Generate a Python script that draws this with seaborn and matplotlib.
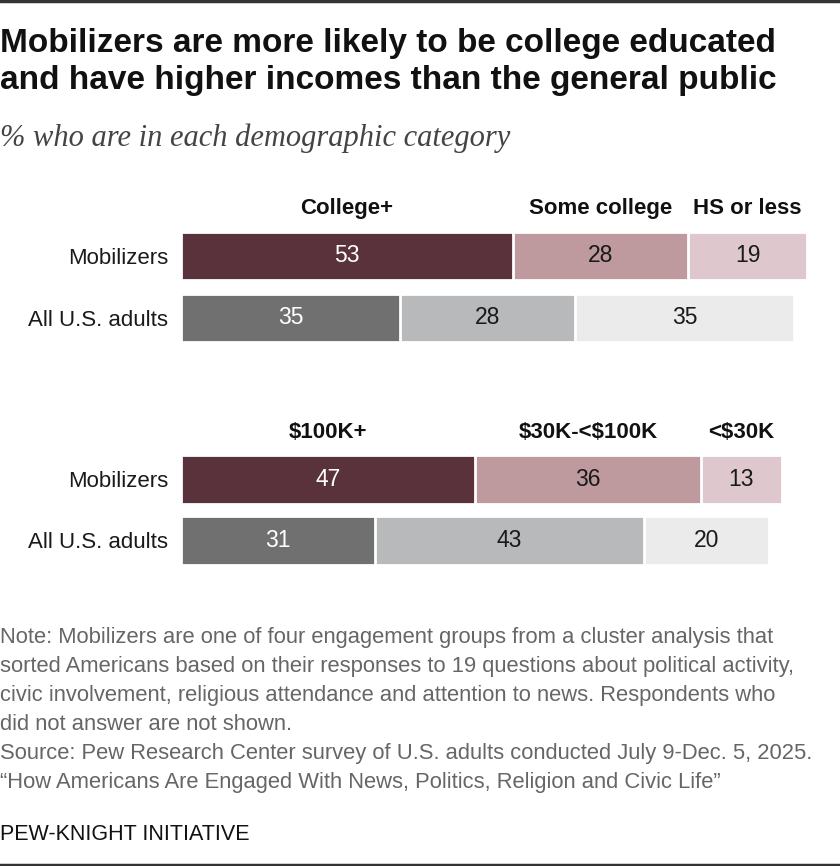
"""Stacked bar chart: education and income of Mobilizers vs. all U.S. adults."""

import matplotlib.pyplot as plt
import pandas as pd
import seaborn as sns

# --- data -------------------------------------------------------------------
GROUPS = ["Mobilizers", "All U.S. adults"]

EDU_CATEGORIES = ["College+", "Some college", "HS or less"]
EDU_MOBILIZERS = [53, 28, 19]
EDU_ALL_ADULTS = [35, 28, 35]

INC_CATEGORIES = ["$100K+", "$30K-<$100K", "<$30K"]
INC_MOBILIZERS = [47, 36, 13]
INC_ALL_ADULTS = [31, 43, 20]

TITLE_LINES = [
    "Mobilizers are more likely to be college educated",
    "and have higher incomes than the general public",
]
SUBTITLE = "% who are in each demographic category"
NOTE_LINES = [
    "Note: Mobilizers are one of four engagement groups from a cluster analysis that",
    "sorted Americans based on their responses to 19 questions about political activity,",
    "civic involvement, religious attendance and attention to news. Respondents who",
    "did not answer are not shown.",
    "Source: Pew Research Center survey of U.S. adults conducted July 9-Dec. 5, 2025.",
    "\u201cHow Americans Are Engaged With News, Politics, Religion and Civic Life\u201d",
]
CREDIT = "PEW-KNIGHT INITIATIVE"

# --- style ------------------------------------------------------------------
MOB_COLORS = ["#5F2C38", "#C4939A", "#E3C4CB"]
ALL_COLORS = ["#707070", "#B8B9BA", "#EBEBEB"]
TEXT_COLORS = ["white", "#1a1a1a", "#1a1a1a"]

FIG_W, FIG_H = 840, 866
BAR_LEFT, BAR_SPAN = 181, 626

sns.set_theme(style="white")
plt.rcParams["font.family"] = ["Liberation Sans", "DejaVu Sans"]
plt.rcParams["text.parse_math"] = False


def fx(px: float) -> float:
    return px / FIG_W


def fy(px: float) -> float:
    return 1 - px / FIG_H


def stacked_panel(ax, categories, mob_values, all_values):
    """Draw one pair of stacked bars by overlaying cumulative totals."""
    for k in range(len(categories) - 1, -1, -1):
        frame = pd.DataFrame(
            {
                "group": GROUPS,
                "total": [sum(mob_values[: k + 1]), sum(all_values[: k + 1])],
            }
        )
        sns.barplot(
            data=frame,
            x="total",
            y="group",
            hue="group",
            palette=[MOB_COLORS[k], ALL_COLORS[k]],
            orient="h",
            width=0.79,
            edgecolor="white",
            linewidth=2,
            legend=False,
            ax=ax,
        )

    for row, values in enumerate([mob_values, all_values]):
        start = 0
        for value, color in zip(values, TEXT_COLORS):
            ax.text(start + value / 2, row, f"{value}", ha="center", va="center",
                    fontsize=16.5, color=color)
            start += value

    start = 0
    for cat, value in zip(categories, mob_values):
        ax.text(start + value / 2, -0.77, cat, ha="center", va="center",
                fontsize=16, fontweight="bold", color="#111111")
        start += value

    ax.set_xlim(0, 100)
    ax.set_ylim(1.5, -0.5)
    ax.set_xlabel("")
    ax.set_ylabel("")
    ax.set_xticks([])
    ax.tick_params(axis="y", length=0, pad=9, labelsize=16, labelcolor="#1a1a1a")
    sns.despine(ax=ax, left=True, bottom=True)


fig = plt.figure(figsize=(FIG_W / 100, FIG_H / 100), dpi=100)

ax_edu = fig.add_axes([fx(BAR_LEFT), fy(349), fx(BAR_SPAN), 124 / FIG_H])
stacked_panel(ax_edu, EDU_CATEGORIES, EDU_MOBILIZERS, EDU_ALL_ADULTS)

ax_inc = fig.add_axes([fx(BAR_LEFT), fy(571), fx(BAR_SPAN), 122 / FIG_H])
stacked_panel(ax_inc, INC_CATEGORIES, INC_MOBILIZERS, INC_ALL_ADULTS)

# rules at top and bottom
fig.add_artist(plt.Line2D([0, 1], [fy(1), fy(1)], color="#333333", linewidth=2.5))
fig.add_artist(plt.Line2D([0, 1], [fy(865), fy(865)], color="#333333", linewidth=2.5))

for line, base in zip(TITLE_LINES, [52, 89]):
    fig.text(fx(0), fy(base), line, fontsize=24, fontweight="bold",
             color="#111111", va="baseline", ha="left")
fig.text(fx(0), fy(146), SUBTITLE, fontsize=22, style="italic", color="#444444",
         va="baseline", ha="left", family=["Liberation Serif", "DejaVu Serif"])

for i, line in enumerate(NOTE_LINES):
    fig.text(fx(0), fy(643 + i * 29), line, fontsize=15.8, color="#666666",
             va="baseline", ha="left")
fig.text(fx(0), fy(840), CREDIT, fontsize=15.5, color="#111111",
         va="baseline", ha="left")

fig.savefig("out.png", dpi=100)
